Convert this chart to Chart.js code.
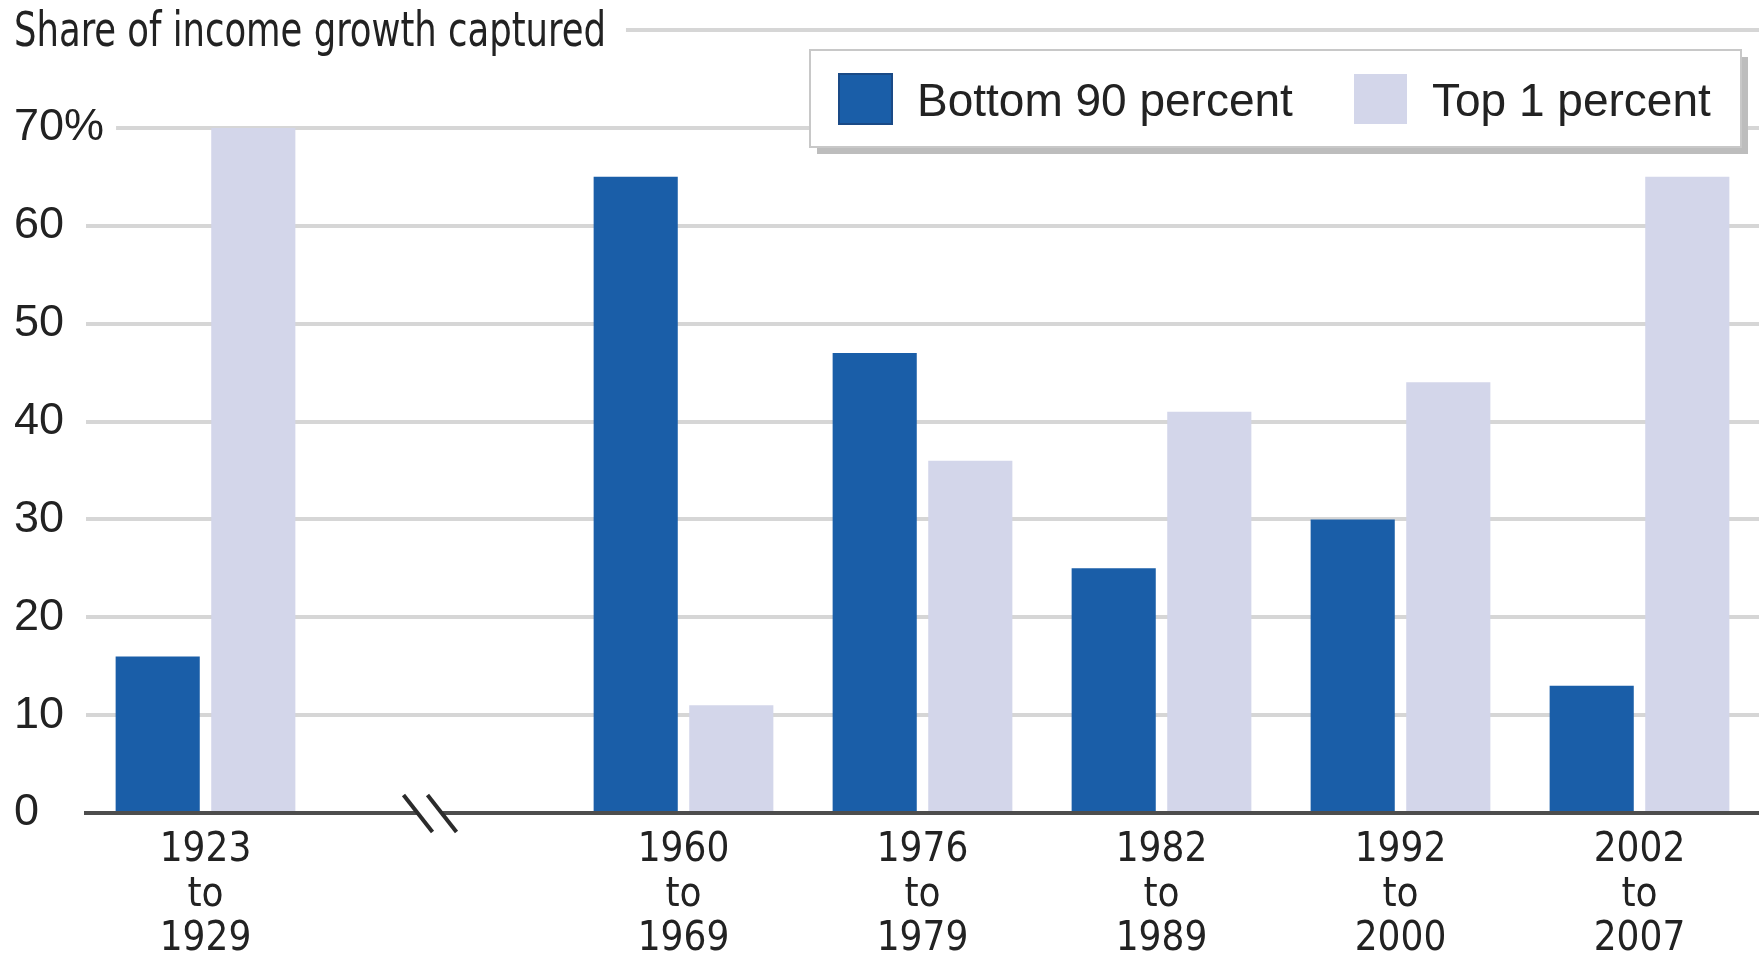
<!DOCTYPE html>
<html>
<head>
<meta charset="utf-8">
<script src="https://cdn.jsdelivr.net/npm/chart.js@4.4.1/dist/chart.umd.min.js"></script>
<style>
  html, body { margin: 0; padding: 0; background: #fff; }
</style>
</head>
<body>
<canvas id="myChart" width="1759" height="956"></canvas>
<script>
// data
const periods = [['1923', 'to', '1929'], '', ['1960', 'to', '1969'], ['1976', 'to', '1979'],
                 ['1982', 'to', '1989'], ['1992', 'to', '2000'], ['2002', 'to', '2007']];
const bottom90 = [16, null, 65, 47, 25, 30, 13];
const top1 = [70, null, 11, 36, 41, 44, 65];
const yTickLabels = ['0', '10', '20', '30', '40', '50', '60', '70%', ''];
const chartTitle = 'Share of income growth captured';

const narrow = "'Liberation Sans Narrow', 'DejaVu Sans Condensed', 'Arial Narrow', sans-serif";
const regular = "'Liberation Sans', Arial, sans-serif";

const titlePlugin = {
    id: 'titleText',
    afterDraw(chart) {
        const ctx = chart.ctx;
        ctx.save();
        ctx.font = `48px ${narrow}`;
        const sx = 0.82;
        const w = ctx.measureText(chartTitle).width * sx;
        ctx.fillStyle = '#fff';
        ctx.fillRect(0, 0, 14 + w + 20, 60);
        ctx.fillStyle = '#222';
        ctx.textBaseline = 'middle';
        ctx.translate(14, 34);
        ctx.scale(sx, 1);
        ctx.fillText(chartTitle, 0, 0);
        ctx.restore();
    }
};

const breakPlugin = {
    id: 'axisBreak',
    afterDraw(chart) {
        const ctx = chart.ctx;
        const x = chart.scales.x.getPixelForValue(1) - 15;
        const y = chart.scales.y.getPixelForValue(0);
        ctx.save();
        ctx.fillStyle = '#fff';
        ctx.beginPath();
        ctx.moveTo(x - 12, y - 4);
        ctx.lineTo(x + 12, y - 4);
        ctx.lineTo(x + 14, y + 4);
        ctx.lineTo(x - 10, y + 4);
        ctx.closePath();
        ctx.fill();
        ctx.strokeStyle = '#2b2b2b';
        ctx.lineWidth = 4;
        [-12, 12].forEach(dx => {
            ctx.beginPath();
            ctx.moveTo(x + dx - 14, y - 18);
            ctx.lineTo(x + dx + 15, y + 19);
            ctx.stroke();
        });
        ctx.restore();
    }
};

const legendPlugin = {
    id: 'boxLegend',
    afterDraw(chart) {
        const ctx = chart.ctx;
        const box = { x: 810, y: 50, w: 931, h: 97 };
        ctx.save();
        ctx.fillStyle = '#bdbdbd';
        ctx.fillRect(box.x + 7, box.y + 7, box.w, box.h);
        ctx.fillStyle = '#fff';
        ctx.fillRect(box.x, box.y, box.w, box.h);
        ctx.strokeStyle = '#c8c8c8';
        ctx.lineWidth = 2;
        ctx.strokeRect(box.x, box.y, box.w, box.h);

        ctx.font = `46px ${regular}`;
        ctx.textBaseline = 'middle';
        const swatchX = [839, 1354];
        chart.data.datasets.forEach((ds, i) => {
            ctx.fillStyle = ds.backgroundColor;
            ctx.fillRect(swatchX[i], 74, 53, 50);
            if (i === 0) {
                ctx.strokeStyle = '#1a4a86';
                ctx.lineWidth = 2;
                ctx.strokeRect(swatchX[i], 74, 53, 50);
            }
            ctx.fillStyle = '#222';
            ctx.fillText(ds.label, swatchX[i] + 78, 103);
        });
        ctx.restore();
    }
};

const ctx = document.getElementById('myChart').getContext('2d');
const myChart = new Chart(ctx, {
    type: 'bar',
    data: {
        labels: periods,
        datasets: [
            {
                label: 'Bottom 90 percent',
                data: bottom90,
                backgroundColor: '#1a5ea8',
                borderWidth: 0
            },
            {
                label: 'Top 1 percent',
                data: top1,
                backgroundColor: '#d3d6ea',
                borderWidth: 0
            }
        ]
    },
    options: {
        responsive: false,
        animation: false,
        devicePixelRatio: 1,
        categoryPercentage: 0.8,
        barPercentage: 0.88,
        layout: { padding: { left: 14, top: 30, right: 0, bottom: 0 } },
        plugins: {
            legend: { display: false },
            tooltip: { enabled: false }
        },
        scales: {
            x: {
                grid: { display: false, drawTicks: false },
                border: { display: true, color: '#4d4d4d', width: 4 },
                ticks: {
                    color: '#222',
                    padding: 15,
                    maxRotation: 0,
                    autoSkip: false,
                    font: { family: narrow, size: 40, lineHeight: 1.12 }
                },
                afterFit(scale) { scale.height = 143; }
            },
            y: {
                min: 0,
                max: 80,
                grid: { color: '#d6d6d6', lineWidth: 4, drawTicks: false },
                border: { display: false },
                ticks: {
                    stepSize: 10,
                    crossAlign: 'far',
                    color: '#222',
                    font: { family: regular, size: 45, lineHeight: 1.0 },
                    showLabelBackdrop: true,
                    backdropColor: '#fff',
                    backdropPadding: { top: 0, bottom: 0, left: 0, right: 12 },
                    callback: (value, index) => yTickLabels[index]
                },
                afterFit(scale) {
                    scale.width = 72;
                    // let "70%" run past the axis edge like the original
                    scale._computeLabelArea = () => null;
                }
            }
        }
    },
    plugins: [titlePlugin, breakPlugin, legendPlugin]
});
</script>
</body>
</html>
